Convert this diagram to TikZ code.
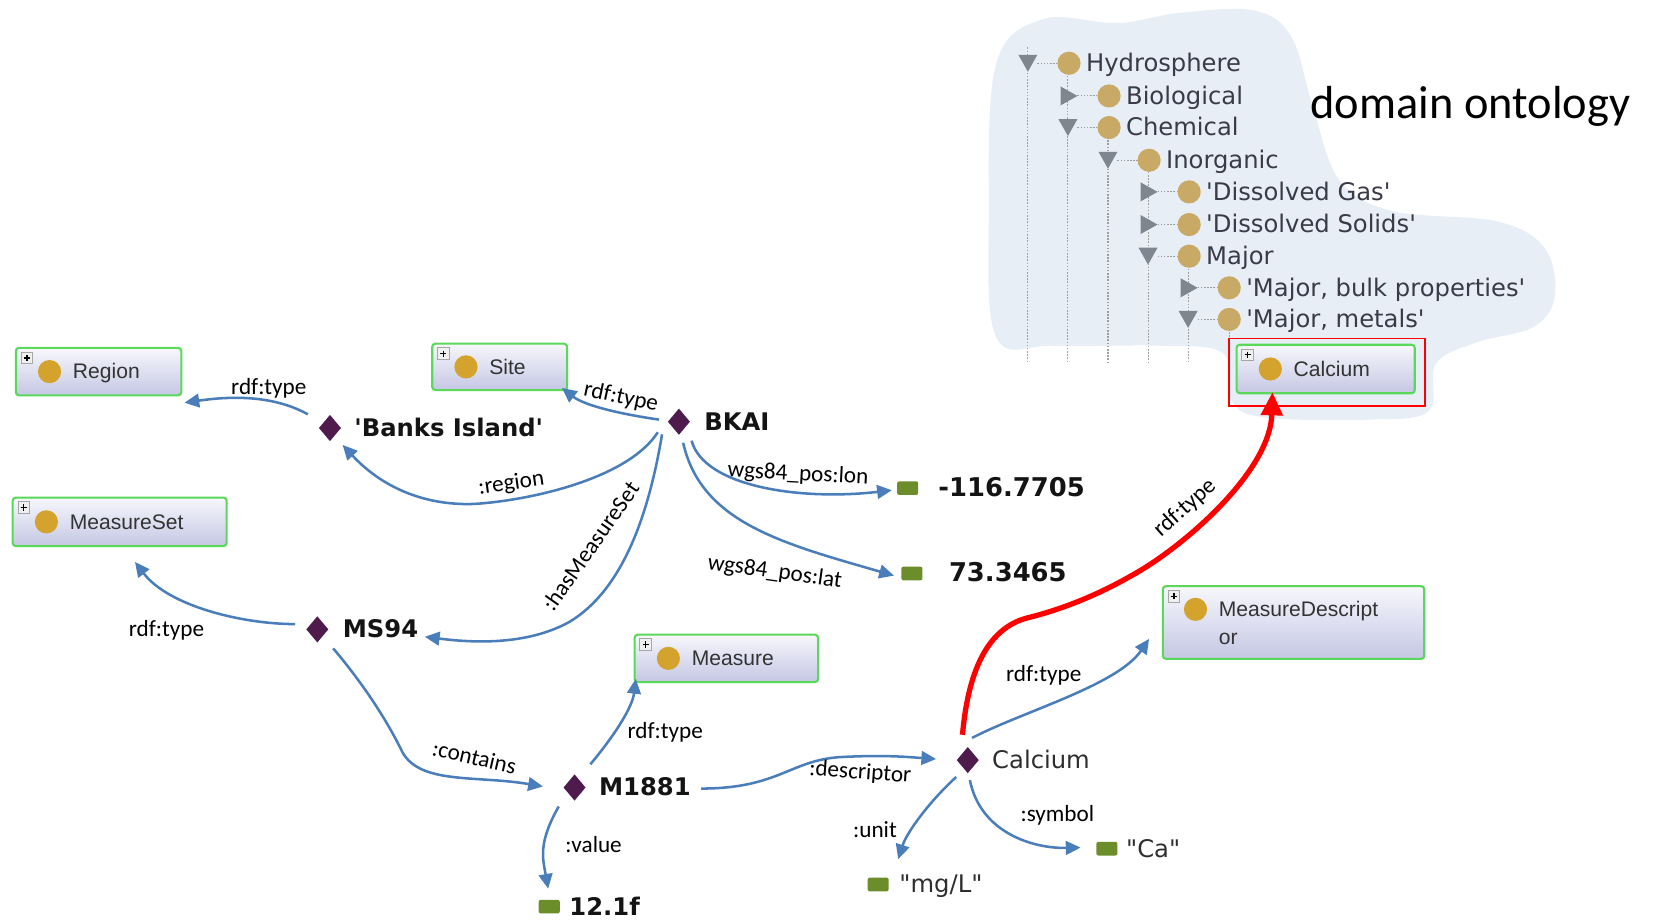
\documentclass[tikz,border=0pt]{standalone}
\usepackage{fontspec}
\newfontfamily\lblf{Carlito}
\newfontfamily\dvs{DejaVu Sans}
\newfontfamily\lsans{Liberation Sans}
\usetikzlibrary{shapes.geometric,arrows.meta}
\definecolor{purp}{HTML}{4F1B4D}
\definecolor{olivelit}{HTML}{6B8E2B}
\definecolor{eblue}{HTML}{4A7EBB}
\definecolor{boxgreen}{HTML}{5AD85A}
\definecolor{boxtop}{HTML}{F7F7FC}
\definecolor{boxbot}{HTML}{C5C7E4}
\definecolor{goldc}{HTML}{D4A32D}
\definecolor{tgold}{HTML}{C8AA66}
\definecolor{trigray}{HTML}{7E868F}
\definecolor{blobc}{HTML}{E8EEF6}
\definecolor{treetext}{HTML}{3A3A48}
\tikzset{
  lbl/.style={font=\lblf\fontsize{22}{24}\selectfont, inner sep=0},
  ind/.style={font=\dvs\bfseries\fontsize{23}{26}\selectfont, anchor=base west, inner sep=0, text=black!92},
  num/.style={font=\dvs\bfseries\fontsize{24.5}{27}\selectfont, anchor=base west, inner sep=0, text=black!92},
  indr/.style={font=\dvs\fontsize{23}{26}\selectfont, anchor=base west, inner sep=0, text=black!82},
  dia/.style={diamond, fill=purp, inner sep=0, minimum width=21pt, minimum height=25pt},
  lit/.style={fill=olivelit, rounded corners=2pt, minimum width=20pt, minimum height=13pt, inner sep=0},
  edge/.style={draw=eblue, line width=2.4pt, -{Triangle[length=14pt,width=13pt]}},
  redge/.style={draw=red, line width=5pt, -{Triangle[length=22pt,width=20pt]}},
  clsbox/.style={draw=boxgreen, line width=2pt, rounded corners=3pt, top color=boxtop, bottom color=boxbot, inner sep=0},
  clstext/.style={font=\lsans\fontsize{20}{22}\selectfont, text=black!80, anchor=base west, inner sep=0},
  tree/.style={font=\dvs\fontsize{23}{26}\selectfont, text=treetext, anchor=base west, inner sep=0},
  dots/.style={draw=gray!75, line width=1pt, dash pattern=on 1.5pt off 1.5pt},
  plusbox/.style={draw=gray!70, fill=gray!12, line width=0.8pt}
}
\newcommand\ClsBox[6]{%
  \node[clsbox, minimum width={#4-#2}, minimum height={#5-#3}] (#1) at ({(#2+#4)/2},{(#3+#5)/2}) {};
  \draw[plusbox] ({#2+5},{#3+4}) rectangle ({#2+16},{#3+15});
  \draw[line width=1.2pt] ({#2+10.5},{#3+6.5}) -- ({#2+10.5},{#3+12.5}) ({#2+7.5},{#3+9.5}) -- ({#2+13.5},{#3+9.5});
  \fill[goldc] ({#2+32},{(#3+#5)/2}) circle[radius=11pt];
  \node[clstext] (#1T) at ({#2+54},{(#3+#5)/2+7}) {#6};}
\newcommand\TreeRow[5]{%
  \pgfmathsetmacro\tx{975+38*#2}
  \ifnum#3=0
    \fill[trigray] ({\tx-9},{#1-8}) -- ({\tx+9},{#1-8}) -- (\tx,{#1+8}) -- cycle;
  \else
    \fill[trigray] ({\tx-7},{#1-9}) -- ({\tx+9},#1) -- ({\tx-7},{#1+9}) -- cycle;
  \fi
  \draw[dots] ({\tx+9},#1) -- ({\tx+28},#1);
  \fill[tgold] ({\tx+39},#1) circle[radius=11pt];
  \node[tree] (#5) at ({\tx+55},{#1+8}) {#4};}
\begin{document}
\begin{tikzpicture}[x=1pt,y=-1pt]
\useasboundingbox (0,0) rectangle (1568,873);
% blob
\fill[blobc] plot[smooth cycle, tension=0.6] coordinates {(945,60) (990,18) (1060,22) (1120,12) (1190,10) (1225,35) (1245,100) (1270,170) (1320,200) (1420,210) (1465,235) (1475,280) (1455,310) (1400,325) (1362,345) (1355,390) (1300,398) (1200,396) (1168,380) (1160,335) (1100,328) (1000,328) (945,320) (938,200)};
% tree vertical lines
\draw[dots] (975,45) -- (975,345);
\draw[dots] (1013,72) -- (1013,345);
\draw[dots] (1051,133) -- (1051,345);
\draw[dots] (1089,163) -- (1089,345);
\draw[dots] (1127,255) -- (1127,345);
\draw[dots] (1166,315) -- (1166,345);
\TreeRow{60}{0}{0}{Hydrosphere}{t0}
\TreeRow{91}{1}{1}{Biological}{t1}
\TreeRow{121}{1}{0}{Chemical}{t2}
\TreeRow{152}{2}{0}{Inorganic}{t3}
\TreeRow{182}{3}{1}{\textquotesingle Dissolved Gas\textquotesingle}{t4}
\TreeRow{213}{3}{1}{\textquotesingle Dissolved Solids\textquotesingle}{t5}
\TreeRow{243}{3}{0}{Major}{t6}
\TreeRow{273}{4}{1}{\textquotesingle Major, bulk properties\textquotesingle}{t7}
\TreeRow{303}{4}{0}{\textquotesingle Major, metals\textquotesingle}{t8}
\node[font=\lblf\fontsize{44}{48}\selectfont, anchor=base west, inner sep=0] (dom) at (1243,112) {domain ontology};
% class boxes
\ClsBox{region}{15}{330}{172}{375}{Region}
\ClsBox{site}{410}{326}{538}{370}{Site}
\ClsBox{mset}{12}{472}{215}{518}{MeasureSet}
\ClsBox{meas}{602}{602}{776}{647}{Measure}
\ClsBox{calc}{1173}{327}{1342}{373}{Calcium}
\node[clsbox, minimum width=248pt, minimum height=69pt] (mdesc) at (1227,590.5) {};
\draw[plusbox] (1108,560) rectangle (1119,571);
\draw[line width=1.2pt] (1113.5,562.5) -- (1113.5,568.5) (1110.5,565.5) -- (1116.5,565.5);
\fill[goldc] (1134,578) circle[radius=11pt];
\node[clstext] (mdescT1) at (1156,585) {MeasureDescript};
\node[clstext] (mdescT2) at (1156,611) {or};
\draw[red, line width=1.6pt] (1166,321) rectangle (1352,385);
% individuals
\node[dia] (bi) at (313,406) {};
\node[ind] (biL) at (336,414) {\textquotesingle Banks Island\textquotesingle};
\node[dia] (bkai) at (644,400) {};
\node[ind] (bkaiL) at (668,408) {BKAI};
\node[dia] (ms94) at (301,597) {};
\node[ind] (ms94L) at (325,605) {MS94};
\node[dia] (m1881) at (545,747) {};
\node[ind] (m1881L) at (568,755) {M1881};
\node[dia] (cal) at (918,721) {};
\node[indr] (calL) at (941,729) {Calcium};
% literals
\node[lit] (lonB) at (861,463) {};
\node[num] (lonL) at (890,471) {-116.7705};
\node[lit] (latB) at (865,544) {};
\node[num] (latL) at (900,552) {73.3465};
\node[lit] (valB) at (521,860) {};
\node[ind] (valL) at (540,868) {12.1f};
\node[lit] (mglB) at (833,839) {};
\node[indr] (mglL) at (853,847) {"mg/L"};
\node[lit] (caB) at (1050,805) {};
\node[indr] (caL) at (1068,813) {"Ca"};
% edges
\draw[edge] ([shift={(-21,-13)}]bi.center) .. controls (265,378) and (230,374) .. ([shift={(81.5,29.5)}]region.center);
\draw[edge] ([shift={(-19,-2)}]bkai.center) .. controls (590,393) and (555,385) .. ([shift={(59,20)}]site.center);
\draw[edge] ([shift={(-20,10)}]bkai.center) .. controls (595,455) and (500,475) .. (450,478) .. controls (400,480) and (360,460) .. ([shift={(12,16)}]bi.center);
\draw[edge] ([shift={(-16,12)}]bkai.center) .. controls (615,490) and (590,560) .. (540,590) .. controls (500,612) and (450,610) .. ([shift={(102,7)}]ms94.center);
\draw[edge] ([shift={(12,18)}]bkai.center) .. controls (668,462) and (760,475) .. ([shift={(-15,2)}]lonB.center);
\draw[edge] ([shift={(4,20)}]bkai.center) .. controls (665,495) and (740,515) .. ([shift={(-17,2)}]latB.center);
\draw[edge] ([shift={(-21,-5)}]ms94.center) .. controls (230,592) and (160,575) .. ([shift={(14.5,38)}]mset.center);
\draw[edge] ([shift={(15,18)}]ms94.center) .. controls (350,655) and (370,690) .. (380,710) .. controls (395,745) and (450,735) .. ([shift={(-30,-1)}]m1881.center);
\draw[edge] ([shift={(15,-22)}]m1881.center) .. controls (585,695) and (600,670) .. ([shift={(-86,19.5)}]meas.center);
\draw[edge] ([shift={(-15,18)}]m1881.center) .. controls (510,800) and (515,815) .. ([shift={(-1,-17)}]valB.center);
\draw[edge] ([shift={(120,1)}]m1881.center) .. controls (740,748) and (750,720) .. (800,718) .. controls (840,716) and (860,718) .. ([shift={(-30,-1)}]cal.center);
\draw[edge] ([shift={(4,-21)}]cal.center) .. controls (970,675) and (1060,650) .. ([shift={(-137,15.5)}]mdesc.center);
\draw[edge] ([shift={(-11,16)}]cal.center) .. controls (880,762) and (860,790) .. ([shift={(19,-24)}]mglB.center);
\draw[edge] ([shift={(2,19)}]cal.center) .. controls (930,790) and (980,805) .. ([shift={(-25,-1)}]caB.center);
\draw[redge] ([shift={(-5,-24)}]cal.center) .. controls (918,640) and (935,596) .. (975,586) .. controls (1015,576) and (1050,560) .. (1082,541) .. controls (1130,512) and (1205,445) .. ([shift={(-50.5,22)}]calc.center);
% edge labels
\node[lbl] (l1) at (255,368) {rdf:type};
\node[lbl, rotate=-12] (l2) at (589,377) {rdf:type};
\node[lbl, rotate=8] (l3) at (485,459) {:region};
\node[lbl, rotate=55] (l4) at (560,518) {:hasMeasureSet};
\node[lbl, rotate=-3] (l5) at (757,450) {wgs84\_pos:lon};
\node[lbl, rotate=-8] (l6) at (735,543) {wgs84\_pos:lat};
\node[lbl] (l7) at (158,598) {rdf:type};
\node[lbl, rotate=-13] (l8) at (450,718) {:contains};
\node[lbl] (l9) at (631,695) {rdf:type};
\node[lbl] (l10) at (563,801) {:value};
\node[lbl, rotate=-4] (l11) at (816,733) {:descriptor};
\node[lbl] (l12) at (990,641) {rdf:type};
\node[lbl] (l13) at (830,787) {:unit};
\node[lbl] (l14) at (1003,773) {:symbol};
\node[lbl, rotate=42] (l15) at (1124,482) {rdf:type};
\end{tikzpicture}
\end{document}
